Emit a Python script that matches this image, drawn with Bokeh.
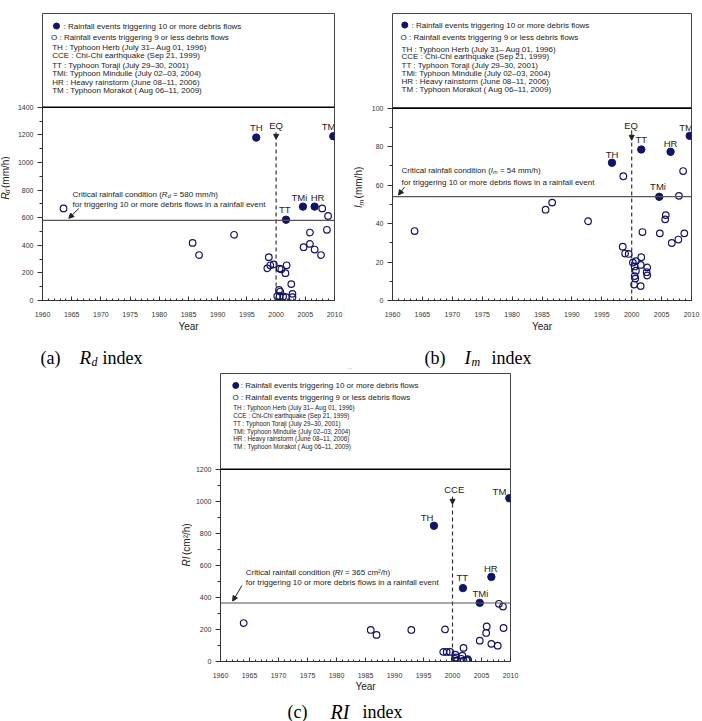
import math
from bokeh.plotting import figure
from bokeh.models import Range1d, SingleIntervalTicker, Span, Arrow, NormalHead, ColumnDataSource
from bokeh.layouts import row, column
from bokeh.embed import file_html
from bokeh.resources import INLINE
from bokeh.core.properties import value, field

# ---------------- DATA ----------------
# (a) Rd index (mm/h)
rd_big_year = [1996.6, 2001.7, 2004.6, 2006.6, 2009.8]
rd_big_val = [1180, 585, 680, 680, 1190]
rd_small_year = [1963.6, 1985.7, 1986.8, 1992.8, 1998.75, 1998.5, 1999.0, 1999.6, 2000.6, 2000.9,
                 2001.8, 2001.6, 2002.6, 2000.5, 2000.7, 2000.2, 2000.6, 2001.2, 2001.7, 2002.8,
                 2002.8, 2004.7, 2005.8, 2005.8, 2006.6, 2007.7, 2008.7, 2007.9, 2008.9]
rd_small_val = [667, 417, 329, 476, 314, 233, 255, 262, 231, 226,
                255, 198, 119, 76, 65, 31, 31, 29, 24, 48,
                24, 386, 410, 492, 369, 329, 512, 667, 612]
rd_critical = 580

# (b) Im index (mm/h)
im_big_year = [1996.7, 2001.6, 2004.6, 2006.5, 2009.7]
im_big_val = [71.6, 78.5, 53.9, 77.3, 85.6]
im_small_year = [1963.7, 1985.6, 1986.7, 1992.7, 1998.6, 1998.5, 1998.9, 1999.5, 2000.2, 2000.7,
                 2000.5, 2000.7, 2000.5, 2000.6, 2000.4, 2001.5, 2001.6, 2001.5, 2001.8, 2002.6,
                 2002.5, 2002.6, 2004.7, 2005.7, 2005.6, 2006.7, 2007.8, 2007.9, 2008.6, 2008.8]
im_small_val = [36.1, 47.2, 50.9, 41.2, 64.6, 28.0, 24.4, 24.2, 19.7, 20.5,
                17.7, 15.5, 12.7, 11.4, 8.3, 7.5, 22.5, 18.5, 35.6, 17.2,
                14.7, 13.0, 34.9, 44.4, 42.2, 29.9, 31.7, 54.4, 67.3, 34.9]
im_critical = 54

# (c) RI index (cm2/h)
ri_big_year = [1996.8, 2001.8, 2004.7, 2006.7, 2009.8]
ri_big_val = [847, 458, 366, 528, 1019]
ri_small_year = [1964.0, 1985.9, 1986.9, 1992.9, 1998.7, 1998.4, 1999.0, 1999.6, 2000.5, 2001.9,
                 2000.4, 2000.5, 2000.8, 2001.5, 2001.7, 2001.9, 2002.4, 2002.7, 2000.6, 2002.6,
                 2004.7, 2005.9, 2005.8, 2006.7, 2007.8, 2008.0, 2008.7, 2008.8]
ri_small_val = [240, 197, 166, 197, 200, 60, 60, 60, 43, 85,
                17, 5, 5, 17, 37, 5, 8, 8, 25, 15,
                130, 219, 178, 110, 99, 360, 343, 209]
ri_critical = 365

# event labels (name, year, value)
a_labels = [("TH", 1996.6, 1250), ("EQ", 2000.0, 1266), ("TM", 2009.0, 1257),
            ("TMi", 2004.0, 745), ("HR", 2007.1, 745), ("TT", 2001.5, 662)]
b_labels = [("EQ", 1999.9, 91), ("TT", 2001.6, 83.5), ("TH", 1996.7, 76),
            ("HR", 2006.5, 81.5), ("TM", 2009.1, 89.8), ("TMi", 2004.4, 59.3)]
c_labels = [("CCE", 2000.3, 1075), ("TH", 1995.6, 900), ("TM", 2008.1, 1060),
            ("HR", 2006.6, 582), ("TT", 2001.7, 522), ("TMi", 2004.8, 424)]

legend_lines = [": Rainfall events triggering 10 or more debris flows",
                "O : Rainfall events triggering 9 or less debris flows",
                "TH : Typhoon Herb (July 31\u2013 Aug 01, 1996)",
                "CCE : Chi-Chi earthquake (Sep 21, 1999)",
                "TT  : Typhoon Toraji  (July 29\u201330, 2001)",
                "TMi: Typhoon Mindulle (July 02\u201303, 2004)",
                "HR : Heavy rainstorm  (June 08\u201311, 2006)",
                "TM : Typhoon Morakot ( Aug 06\u201311, 2009)"]

NAVY = "#13136e"
SANS = "Liberation Sans"
SERIF = "Liberation Serif"
TXT = "#222222"

ARIAL = {' ': 278, '(': 333, ')': 333, ',': 278, '-': 333, '.': 278, '/': 278, ':': 278, '=': 584,
         '\u2013': 556, '\u00b2': 333}
for ch in "0123456789":
    ARIAL[ch] = 556
ARIAL.update(dict(zip("ABCDEFGHIJKLMNOPQRSTUVWXYZ",
                      [667, 667, 722, 722, 667, 611, 778, 722, 278, 500, 667, 556, 833, 722, 778, 667,
                       778, 722, 667, 611, 722, 667, 944, 667, 667, 611])))
ARIAL.update(dict(zip("abcdefghijklmnopqrstuvwxyz",
                      [556, 556, 500, 556, 556, 278, 556, 556, 222, 222, 500, 222, 833, 556, 556, 556,
                       556, 333, 500, 278, 556, 500, 722, 500, 500, 500])))


def tw(s, size):
    return sum(ARIAL.get(c, 556) for c in s) * size / 1000.0


def make_panel(ox, oy, W, H, bl, br, bt, bb, ytop, ymax, yint, xstand=11, ystand_lab=1):
    p = figure(width=W, height=H, x_range=Range1d(1960, 2010), y_range=Range1d(0, ytop),
               min_border_left=bl, min_border_right=br, min_border_top=bt, min_border_bottom=bb,
               toolbar_location=None, output_backend="svg", background_fill_color="white",
               border_fill_color="white")
    fw = W - bl - br
    fh = H - bt - bb
    sx = fw / 50.0
    sy = fh / float(ytop)
    X0 = ox + bl
    Y0 = oy + H - bb

    def fx(X):
        return 1960 + (X - X0) / sx

    def fy(Y):
        return (Y0 - Y) / sy

    p.xgrid.visible = False
    p.ygrid.visible = False
    p.outline_line_color = "#444444"
    p.outline_line_width = 1

    xa = p.xaxis[0]
    xa.ticker = SingleIntervalTicker(interval=5, num_minor_ticks=5)
    xa.major_tick_in = 4
    xa.major_tick_out = 0
    xa.minor_tick_in = 2
    xa.minor_tick_out = 0
    xa.major_label_standoff = xstand
    xa.major_label_text_font = SANS
    xa.major_label_text_font_size = "7px"
    xa.major_label_text_color = "#333333"
    xa.axis_label = "Year"
    xa.axis_label_text_font = SANS
    xa.axis_label_text_font_size = "10px"
    xa.axis_label_text_font_style = "normal"
    xa.axis_label_text_color = TXT
    xa.axis_label_standoff = ystand_lab
    xa.axis_line_color = "#333333"
    xa.major_tick_line_color = "#333333"
    xa.minor_tick_line_color = "#333333"

    ya = p.yaxis[0]
    ya.bounds = (0, ymax)
    ya.ticker = SingleIntervalTicker(interval=yint, num_minor_ticks=2)
    ya.major_tick_in = 0
    ya.major_tick_out = 5
    ya.minor_tick_in = 0
    ya.minor_tick_out = 3
    ya.major_label_standoff = 4
    ya.major_label_text_font = SANS
    ya.major_label_text_font_size = "7px"
    ya.major_label_text_color = "#333333"
    ya.axis_line_color = "#333333"
    ya.major_tick_line_color = "#333333"
    ya.minor_tick_line_color = "#333333"

    p.add_layout(Span(location=ymax, dimension="width", line_color="black", line_width=1.6))
    return p, fx, fy


def canvas(ox, oy, w, h):
    # plain drawing area whose coordinates are the page's pixels
    p = figure(width=w, height=h, x_range=Range1d(ox, ox + w), y_range=Range1d(oy + h, oy),
               min_border=0, toolbar_location=None, output_backend="svg",
               x_axis_type=None, y_axis_type=None, outline_line_color=None,
               background_fill_color="white", border_fill_color="white")
    p.xgrid.visible = False
    p.ygrid.visible = False
    return p


def strip_lead(t, size):
    n = len(t) - len(t.lstrip(" "))
    return t.lstrip(" "), tw(" " * n, size)


def rich_text(p, fx, fy, X, Y, pieces, color=TXT):
    xs, ys, ts, sz, st = [], [], [], [], []
    for t, size, style, dY in pieces:
        t, lead = strip_lead(t, size)
        X += lead
        xs.append(fx(X))
        ys.append(fy(Y + dY))
        ts.append(t)
        sz.append("%.1fpx" % size)
        st.append(style)
        X += tw(t, size)
    src = ColumnDataSource(dict(x=xs, y=ys, text=ts, size=sz, style=st))
    p.text(x="x", y="y", text="text", source=src, text_font=value(SANS),
           text_font_size=field("size"), text_font_style=field("style"),
           text_baseline="alphabetic", text_align="left", text_color=color)


def rot_label(c, X, Ybottom, pieces):
    xs, ys, ts, sz, st = [], [], [], [], []
    Y = Ybottom
    for t, size, style, dX in pieces:
        t, lead = strip_lead(t, size)
        Y -= lead
        xs.append(X + dX)
        ys.append(Y)
        ts.append(t)
        sz.append("%.1fpx" % size)
        st.append(style)
        Y -= tw(t, size)
    src = ColumnDataSource(dict(x=xs, y=ys, text=ts, size=sz, style=st))
    c.text(x="x", y="y", text="text", source=src, angle=math.pi / 2, text_font=value(SANS),
           text_font_size=field("size"), text_font_style=field("style"),
           text_baseline="middle", text_align="left", text_color=TXT)


def caption(c, pieces):
    xs = [q[1] for q in pieces]
    ys = [q[2] for q in pieces]
    src = ColumnDataSource(dict(x=xs, y=ys, text=[q[0] for q in pieces],
                                size=["%dpx" % q[3] for q in pieces], style=[q[4] for q in pieces]))
    c.text(x="x", y="y", text="text", source=src, text_font=value(SERIF),
           text_font_size=field("size"), text_font_style=field("style"),
           text_baseline="alphabetic", text_align="left", text_color="black")


def legend(p, fx, fy, mX, mY, tX, lX2, lX, ys, size_top, size_rest):
    p.scatter(x=[fx(mX)], y=[fy(mY)], size=6, marker="circle", fill_color=NAVY, line_color=NAVY)
    xs = [fx(tX), fx(lX2)] + [fx(lX)] * 6
    yy = [fy(y) for y in ys]
    sizes = ["%.1fpx" % size_top] * 2 + ["%.1fpx" % size_rest] * 6
    src = ColumnDataSource(dict(x=xs, y=yy, text=legend_lines, size=sizes))
    p.text(x="x", y="y", text="text", source=src, text_font=value(SANS), text_font_size=field("size"),
           text_baseline="middle", text_align="left", text_color=TXT)


def data_marks(p, sy_, sv_, by_, bv_, labels, crit, eq_from, eq_to, carr):
    p.add_layout(Span(location=crit, dimension="width", line_color="#555555", line_width=1.2))
    p.segment(x0=[2000], y0=[0], x1=[2000], y1=[eq_to], line_color="#333333", line_width=1.2,
              line_dash="4 3")
    p.add_layout(Arrow(x_start=2000, y_start=eq_from, x_end=2000, y_end=eq_to, line_color="#222222",
                       line_width=1, end=NormalHead(size=5, fill_color="#222222", line_color="#222222")))
    p.add_layout(Arrow(x_start=carr[0], y_start=carr[1], x_end=carr[2], y_end=carr[3],
                       line_color="#222222", line_width=1,
                       end=NormalHead(size=5, fill_color="#222222", line_color="#222222")))
    p.scatter(x=sy_, y=sv_, size=6.6, marker="circle", fill_color=None, line_color=NAVY, line_width=1.2)
    p.scatter(x=by_, y=bv_, size=7.4, marker="circle", fill_color=NAVY, line_color=NAVY)
    p.text(x=[l[1] for l in labels], y=[l[2] for l in labels], text=[l[0] for l in labels],
           text_font=value(SANS), text_font_size=value("9.5px"), text_align="center",
           text_baseline="middle", text_color=TXT)


# ---------------- Panel (a) ----------------
pa, fxa, fya = make_panel(10, 0, 341, 344, 32, 17, 9, 44, 2078.6, 1400, 200)
data_marks(pa, rd_small_year, rd_small_val, rd_big_year, rd_big_val, a_labels, rd_critical,
           1219, 1167, (1966.2, 666, 1964.5, 595))
legend(pa, fxa, fya, 56, 21.7, 63, 50.5, 51.7, [21.7, 33.3, 43.7, 51.7, 61.3, 70, 78.7, 87.3], 8, 8)
rich_text(pa, fxa, fya, 72, 192.3, [("Critical rainfall condition (", 8, "normal", 0),
                                   ("R", 8, "italic", 0), ("d", 5.5, "italic", 1.8),
                                   (" = 580 mm/h)", 8, "normal", 0)])
rich_text(pa, fxa, fya, 72, 202.5, [("for triggering 10 or more debris flows in a rainfall event", 8, "normal", 0)])
La = canvas(0, 0, 10, 344)
rot_label(La, 4.5, 223, [("R", 10, "italic", 0), ("d", 7, "italic", 2.5), (" (mm/h)", 10, "normal", 0)])

# ---------------- Panel (b) ----------------
pb, fxb, fyb = make_panel(364, 0, 338, 344, 28, 11, 13, 33, 149.2, 100, 20)
data_marks(pb, im_small_year, im_small_val, im_big_year, im_big_val, b_labels, im_critical,
           88.5, 83.3, (1962.0, 58.9, 1961.0, 54.8))
legend(pb, fxb, fyb, 404.3, 25, 411, 400, 401, [25, 38.3, 50, 58, 66.7, 75, 83.3, 91.7], 8, 8)
rich_text(pb, fxb, fyb, 401, 175.7, [("Critical rainfall condition (", 8, "normal", 0),
                                    ("I", 8, "italic", 0), ("m", 5.5, "italic", 1.8),
                                    (" = 54 mm/h)", 8, "normal", 0)])
rich_text(pb, fxb, fyb, 401, 188, [("for triggering 10 or more debris flows in a rainfall event", 8, "normal", 0)])
Lb = canvas(351, 0, 13, 344)
rot_label(Lb, 358, 233, [("I", 10, "italic", 0), ("m", 7, "italic", 2.5), (" (mm/h)", 10, "normal", 0)])

# ---------------- captions (a), (b) ----------------
cap1 = canvas(0, 344, 702, 26)
caption(cap1, [("(a)", 40, 357, 18, "normal"), ("R", 79, 357, 19, "italic"),
               ("d", 91, 361, 12, "italic"), ("index", 102, 357, 18, "normal"),
               ("(b)", 424, 357, 18, "normal"), ("I", 464, 357, 19, "italic"),
               ("m", 471, 361, 12, "italic"), ("index", 491, 357, 18, "normal")])
cap1.text(x=[347], y=[366], text=["..."], text_font=value(SANS), text_font_size=value("6px"),
          text_color="#777777", text_baseline="middle")

# ---------------- Panel (c) ----------------
pc, fxc, fyc = make_panel(192, 370, 510, 324, 27, 192, 3, 32, 1797, 1200, 200, xstand=11, ystand_lab=0)
data_marks(pc, ri_small_year, ri_small_val, ri_big_year, ri_big_val, c_labels, ri_critical,
           1029, 981, (1963.7, 474, 1962.1, 377))
legend(pc, fxc, fyc, 234.3, 385, 239.3, 231, 231.7, [385, 397.3, 406.7, 414.7, 422.7, 430.7, 438.7, 446.7], 8, 6.3)
rich_text(pc, fxc, fyc, 244.3, 572.3, [("Critical rainfall condition (", 8, "normal", 0),
                                      ("RI", 8, "italic", 0),
                                      (" = 365 cm\u00b2/h)", 8, "normal", 0)])
rich_text(pc, fxc, fyc, 244.3, 582.3, [("for triggering 10 or more debris flows in a rainfall event", 8, "normal", 0)])
Lc = canvas(0, 370, 192, 324)
rot_label(Lc, 186, 587, [("RI", 10, "italic", 0), (" (cm\u00b2/h)", 10, "normal", 0)])

cap2 = canvas(0, 694, 702, 27)
caption(cap2, [("(c)", 287, 711, 18, "normal"), ("RI", 330, 711, 20, "italic"),
               ("index", 362, 711, 18, "normal")])

layout = column(row(La, pa, Lb, pb), cap1, row(Lc, pc), cap2)
open("out.html", "w").write(file_html(layout, INLINE))
